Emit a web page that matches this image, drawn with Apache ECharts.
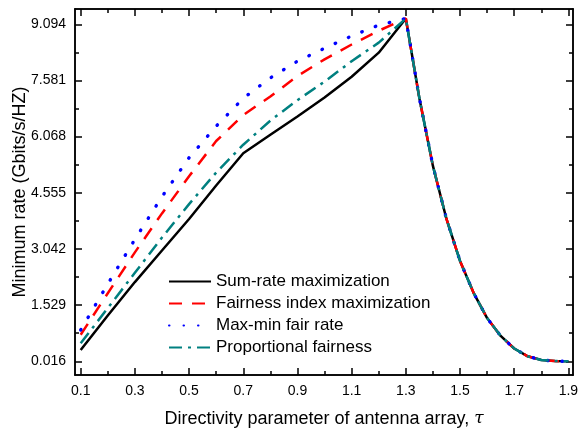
<!DOCTYPE html>
<html>
<head>
<meta charset="utf-8">
<script src="https://cdn.jsdelivr.net/npm/echarts@6/dist/echarts.min.js"></script>
<style>html,body{margin:0;padding:0;background:#fff;}#c{width:579px;height:429px;}</style>
</head>
<body>
<div id="c"></div>
<script>
// ---- data ----
const tau = [0.1,0.2,0.3,0.4,0.5,0.6,0.7,0.8,0.9,1.0,1.1,1.2,1.3,
             1.35,1.4,1.45,1.5,1.55,1.6,1.65,1.7,1.75,1.8,1.85,1.9];
const descent = [7.1,5.28,3.85,2.72,1.86,1.18,0.7,0.36,0.15,0.05,0.022,0.016];
const sumRate      = [0.32,1.25,2.15,3.0,3.85,4.75,5.62,6.12,6.61,7.12,7.68,8.33,9.25].concat(descent);
const fairnessIdx  = [0.73,1.85,2.95,4.0,5.0,5.95,6.65,7.15,7.7,8.15,8.55,8.92,9.25].concat(descent);
const maxMin       = [0.86,2.1,3.3,4.45,5.5,6.35,7.1,7.65,8.1,8.45,8.78,9.07,9.25].concat(descent);
const propFair     = [0.50,1.45,2.4,3.35,4.25,5.1,5.85,6.5,7.05,7.55,8.1,8.6,9.25].concat(descent);
const seriesNames = ['Sum-rate maximization','Fairness index maximization','Max-min fair rate','Proportional fairness'];
const xTicks = [0.1,0.3,0.5,0.7,0.9,1.1,1.3,1.5,1.7,1.9];
const xMinorTicks = [0.2,0.4,0.6,0.8,1.0,1.2,1.4,1.6,1.8];
const yTicks = [0.016,1.529,3.042,4.555,6.068,7.581,9.094];
const yMinorTicks = [0.7725,2.2855,3.7985,5.3115,6.8245,8.3375];

const pairs = v => tau.map((t,i)=>[t,v[i]]);
const XMIN=0.079, XMAX=1.917, YMIN=-0.353, YMAX=9.506;
const font = 'Liberation Sans, Arial, sans-serif';
const axisLineStyle = {color:'#000', width:1.5};

function xAxisDef(pos, ticks, len, labels, extra){
  return Object.assign({
    type:'value', position:pos, min:XMIN, max:XMAX,
    axisLine:{show:true, onZero:false, lineStyle:axisLineStyle},
    axisTick:{show:true, inside:true, length:len, customValues:ticks, lineStyle:{color:'#000', width:1.5}},
    axisLabel:{show:labels, customValues:ticks, margin:9, color:'#000', fontSize:14, fontFamily:font,
               formatter: v => v.toFixed(1)},
    splitLine:{show:false}
  }, extra||{});
}
function yAxisDef(pos, ticks, len, labels, extra){
  return Object.assign({
    type:'value', position:pos, min:YMIN, max:YMAX,
    axisLine:{show:true, onZero:false, lineStyle:axisLineStyle},
    axisTick:{show:true, inside:true, length:len, customValues:ticks, lineStyle:{color:'#000', width:1.5}},
    axisLabel:{show:labels, customValues:ticks, margin:9, color:'#000', fontSize:14, fontFamily:font,
               formatter: v => v.toFixed(3)},
    splitLine:{show:false}
  }, extra||{});
}

const chart = echarts.init(document.getElementById('c'), null, {renderer:'canvas'});
const colors = ['#000000','#ff0000','#0000ff','#008080'];
const styles = [
  {type:'solid', width:2.5},
  {type:[13,10], width:2.5},
  {type:[0.5,14], width:3.4, cap:'round'},
  {type:[13,6,3,6], width:2.5}
];
const dataSets = [sumRate, fairnessIdx, maxMin, propFair];

chart.setOption({
  animation:false,
  grid:{left:75, right:6, top:9, bottom:54, containLabel:false, outerBoundsMode:'none'},
  xAxis:[
    xAxisDef('bottom', xTicks, 7, true, {
      name:'Directivity parameter of antenna array, {t|τ}', nameLocation:'middle', nameGap:35,
      nameMoveOverlap:false,
      nameTextStyle:{color:'#000', fontSize:18, fontFamily:font,
        rich:{t:{fontFamily:'DejaVu Serif, serif', fontStyle:'italic', fontSize:17, color:'#000'}}}
    }),
    xAxisDef('bottom', xMinorTicks, 4, false),
    xAxisDef('top', xTicks, 7, false),
    xAxisDef('top', xMinorTicks, 4, false)
  ],
  yAxis:[
    yAxisDef('left', yTicks, 7, true, {
      name:'Minimum rate (Gbits/s/HZ)', nameLocation:'middle', nameGap:46,
      nameMoveOverlap:false,
      nameTextStyle:{color:'#000', fontSize:18, fontFamily:font}
    }),
    yAxisDef('left', yMinorTicks, 4, false),
    yAxisDef('right', yTicks, 7, false),
    yAxisDef('right', yMinorTicks, 4, false)
  ],
  legend:{
    show:true, orient:'vertical', left:168, top:273, padding:0,
    itemWidth:42, itemHeight:14, itemGap:5,
    itemStyle:{opacity:0},
    textStyle:{color:'#000', fontSize:17, fontFamily:font},
    data:seriesNames
  },
  series: seriesNames.map((n,i)=>({
    name:n, type:'line', xAxisIndex:0, yAxisIndex:0,
    data:pairs(dataSets[i]), symbol:'none', smooth:false,
    lineStyle:Object.assign({color:colors[i]}, styles[i]),
    itemStyle:{color:colors[i]}, z:2+i
  }))
});
</script>
</body>
</html>
